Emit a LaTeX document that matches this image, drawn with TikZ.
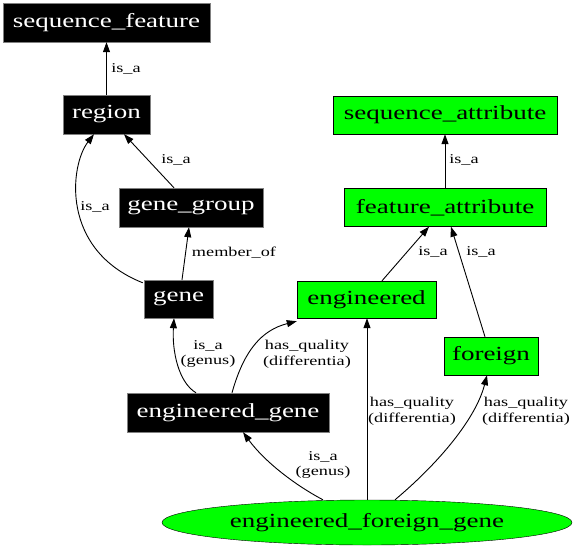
\documentclass[tikz,border=0pt]{standalone}
\usepackage{fontspec}
\setmainfont{Liberation Serif}[FakeStretch=1.35]
\usetikzlibrary{arrows.meta,shapes.geometric}
\tikzset{
  x=1pt, y=-1pt,
  blk/.style={draw=gray, fill=black, text=white, inner sep=0pt, font=\fontsize{20}{24}\selectfont},
  grn/.style={draw=black, fill=green, text=black, inner sep=0pt, font=\fontsize{20}{24}\selectfont},
  grnell/.style={ellipse, draw=black, fill=green, inner sep=0pt, font=\fontsize{20}{24}\selectfont},
  edge/.style={draw=black, line width=0.9pt, -{Triangle[length=10pt,width=7pt]}},
  lbl/.style={font=\fontsize{13.5}{15.5}\selectfont, align=center, inner sep=0pt}
}
\begin{document}
\begin{tikzpicture}
\useasboundingbox (0,0) rectangle (576,549);
% nodes
\node[blk, minimum width=207pt, minimum height=39pt] (sf) at (106.5,22.5) {sequence\_feature};
\node[blk, minimum width=87pt, minimum height=39pt] (region) at (106.5,114.5) {region};
\node[blk, minimum width=144pt, minimum height=39pt] (gg) at (191,207.5) {gene\_group};
\node[blk, minimum width=69pt, minimum height=38pt] (gene) at (178.5,299) {gene};
\node[blk, minimum width=202pt, minimum height=39pt] (eg) at (228,412.5) {engineered\_gene};
\node[grn, minimum width=224pt, minimum height=38pt] (sa) at (445,115) {sequence\_attribute};
\node[grn, minimum width=202pt, minimum height=38pt] (fa) at (445,207.5) {feature\_attribute};
\node[grn, minimum width=139pt, minimum height=37pt] (eng) at (366.5,299.5) {engineered};
\node[grn, minimum width=94pt, minimum height=38pt] (for) at (491,356) {foreign};
\node[grnell, minimum width=410pt, minimum height=45pt] (efg) at (367,522.5) {engineered\_foreign\_gene};
% edges
\draw[edge] (region) -- (sf);
\draw[edge] (gg.north -| 174,0) -- (region.south -| 124,0);
\draw[edge] ([xshift=-1pt,yshift=-3pt]gene.north west) .. controls (60,250) and (70,165) .. (region.south -| 94,0);
\draw[edge] (gene.north -| 182,0) -- (gg.south -| 189,0);
\draw[edge] (sa.south |- fa.north) -- (sa.south);
\draw[edge] (eng.north -| 382,0) -- (fa.south -| 429,0);
\draw[edge] (for.north -| 485,0) -- (fa.south -| 451,0);
\draw[edge] (eg.north -| 196,0) .. controls (178,382) and (172,350) .. (gene.south -| 174,0);
\draw[edge] (eg.north -| 232,0) .. controls (244,350) and (262,330) .. ([yshift=-3pt]eng.south west);
\draw[edge] (efg.north -| 323,0) .. controls (295,485) and (265,462) .. (eg.south -| 243,0);
\draw[edge] (efg.north -| 367,0) -- (eng.south -| 367,0);
\draw[edge] (efg.north -| 395,0) .. controls (440,462) and (476,418) .. (for.south -| 487,0);
% labels
\node[lbl] (l1) at (126,69) {is\_a};
\node[lbl] (l2) at (176,160) {is\_a};
\node[lbl] (l3) at (95,207) {is\_a};
\node[lbl] (l4) at (234,253) {member\_of};
\node[lbl] (l5) at (464,160) {is\_a};
\node[lbl] (l6) at (433,252) {is\_a};
\node[lbl] (l7) at (481,252) {is\_a};
\node[lbl] (l8) at (208,354) {is\_a\\(genus)};
\node[lbl] (l9) at (307,354) {has\_quality\\(differentia)};
\node[lbl] (l10) at (323,465) {is\_a\\(genus)};
\node[lbl] (l11) at (412,411) {has\_quality\\(differentia)};
\node[lbl] (l12) at (526,411) {has\_quality\\(differentia)};
\end{tikzpicture}
\end{document}
